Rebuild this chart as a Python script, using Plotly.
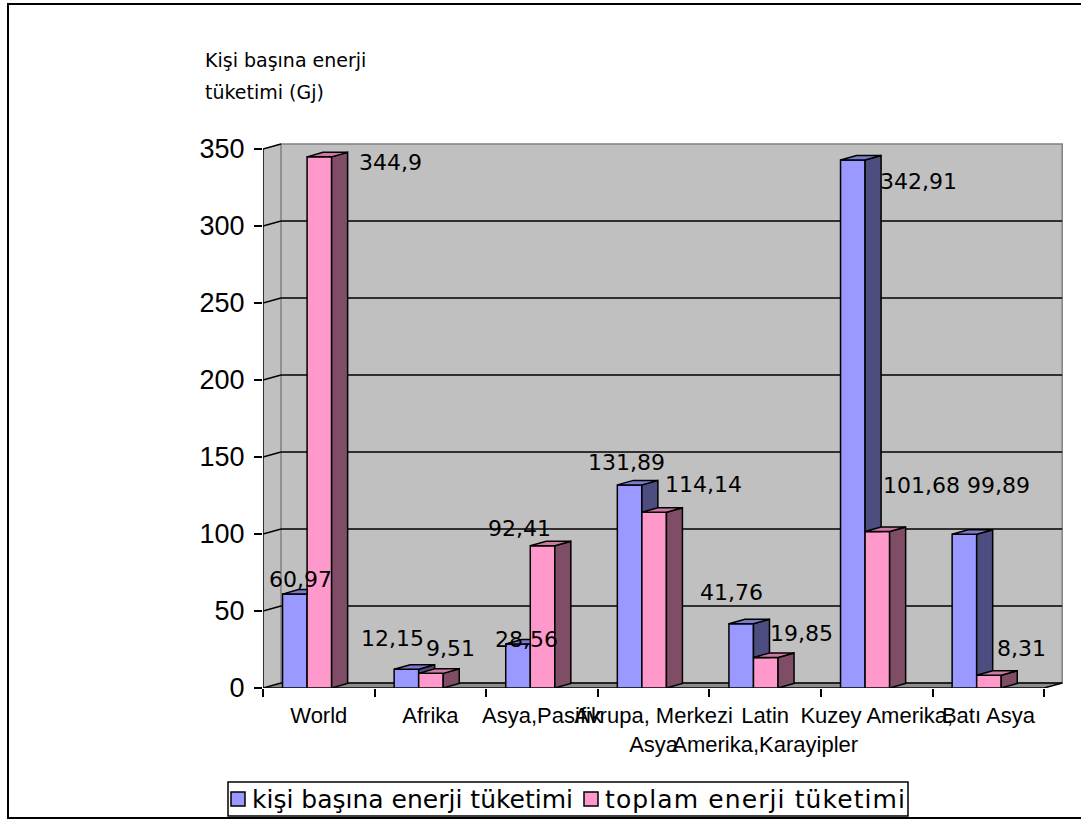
import plotly.graph_objects as go

# ---- data -------------------------------------------------------------
category_labels = [
    "World",
    "Afrika",
    "Asya,Pasifik",
    "Avrupa, Merkezi<br>Asya",
    "Latin<br>Amerika,Karayipler",
    "Kuzey Amerika,",
    "Batı Asya",
]
per_capita = [60.97, 12.15, 28.56, 131.89, 41.76, 342.91, 99.89]
total = [344.9, 9.51, 92.41, 114.14, 19.85, 101.68, 8.31]
y_tick_values = [0, 50, 100, 150, 200, 250, 300, 350]

series_names = ["kişi başına enerji tüketimi", "toplam enerji tüketimi"]

# ---- layout geometry (pixels) -----------------------------------------
W, H = 1081, 821
M_L, M_R, M_T, M_B = 263, 11, 130, 133
PLOT_W = W - M_L - M_R
PLOT_H = H - M_T - M_B
PX_PER_CAT = 111.6
PX_PER_UNIT = 1.54
X_MIN = -0.5
X_MAX = X_MIN + PLOT_W / PX_PER_CAT
Y_MAX = PLOT_H / PX_PER_UNIT
N = len(per_capita)
WALL_TOP = y_tick_values[-1]

# depth of the pseudo-3D walls and boxes, in axis units
WALL_DX, WALL_DY = 18 / PX_PER_CAT, 5 / PX_PER_UNIT
BOX_DX, BOX_DY = 16 / PX_PER_CAT, 4.5 / PX_PER_UNIT
BAR_W = 0.22
OFFSETS = [-0.325, -0.105]

FRONT = ["#9999ff", "#ff99cc"]
SIDE = ["#4d4d80", "#804d66"]
TOP = ["#7a7acc", "#cc7aa3"]
WALL = "#c0c0c0"
FLOOR = "#8c8c8c"

# label placement relative to each bar top (pixels, right / up)
label_shift = [
    [(6, 15), (-14, 31), (8, 5), (-3, 22), (-10, 31), (66, -22), (34, 49)],
    [(71, -6), (20, 25), (-23, 17), (49, 28), (36, 24), (44, 46), (33, 27)],
]

LINE_FONT = "Liberation Sans, Arial, sans-serif"
LABEL_FONT = "DejaVu Sans, sans-serif"


def px_x(px):
    return (px - M_L) / PLOT_W


def px_y(py):
    return (M_T + PLOT_H - py) / PLOT_H


def clip(poly, axis, limit, keep_above):
    out = []
    for k in range(len(poly)):
        cur, prev = poly[k], poly[k - 1]
        cin = cur[axis] >= limit if keep_above else cur[axis] <= limit
        pin = prev[axis] >= limit if keep_above else prev[axis] <= limit
        if cin != pin:
            t = (limit - prev[axis]) / (cur[axis] - prev[axis])
            out.append((prev[0] + t * (cur[0] - prev[0]),
                        prev[1] + t * (cur[1] - prev[1])))
        if cin:
            out.append(cur)
    return out


def poly_trace(poly, color):
    xs = [p[0] for p in poly] + [poly[0][0]]
    ys = [p[1] for p in poly] + [poly[0][1]]
    return go.Scatter(x=xs, y=ys, mode="lines", fill="toself",
                      fillcolor=color, line=dict(color="black", width=1.5),
                      hoverinfo="skip", showlegend=False)


fig = go.Figure()

# ---- front faces of the boxes ----------------------------------------
values = [per_capita, total]
for s in range(2):
    fig.add_trace(go.Bar(
        x=list(range(N)), y=values[s], width=BAR_W, offset=OFFSETS[s],
        name=series_names[s], showlegend=False,
        marker=dict(color=FRONT[s], line=dict(color="black", width=1.5)),
        hoverinfo="skip",
    ))

# ---- side and top faces ----------------------------------------------
for i in range(N):
    hb, hp = per_capita[i], total[i]
    for s in range(2):
        h = values[s][i]
        left = i + OFFSETS[s]
        right = left + BAR_W
        side = [(right, 0), (right + BOX_DX, BOX_DY),
                (right + BOX_DX, h + BOX_DY), (right, h)]
        top = [(left, h), (left + BOX_DX, h + BOX_DY),
               (right + BOX_DX, h + BOX_DY), (right, h)]
        if s == 0:
            # the second box stands in front of the first one's right part
            side = clip(side, 1, hp, True)
            if hp > hb:
                top = clip(top, 0, right, False)
        if len(side) >= 3:
            fig.add_trace(poly_trace(side, SIDE[s]))
        if len(top) >= 3:
            fig.add_trace(poly_trace(top, TOP[s]))

# ---- walls, floor, gridlines -----------------------------------------
shapes = []
bx0, bx1 = X_MIN + WALL_DX, N - 0.5 + WALL_DX
shapes.append(dict(type="path", layer="below",
                   path=f"M {X_MIN},0 L {bx0},{WALL_DY} L {bx0},{WALL_TOP + WALL_DY} "
                        f"L {X_MIN},{WALL_TOP} Z",
                   fillcolor=WALL, line=dict(width=0)))
shapes.append(dict(type="rect", layer="below", x0=bx0, x1=bx1,
                   y0=WALL_DY, y1=WALL_TOP + WALL_DY,
                   fillcolor=WALL, line=dict(color="#808080", width=1.5)))
shapes.append(dict(type="path", layer="below",
                   path=f"M {X_MIN},0 L {N - 0.5},0 L {bx1},{WALL_DY} L {bx0},{WALL_DY} Z",
                   fillcolor=FLOOR, line=dict(width=0)))
for v in y_tick_values:
    if v < WALL_TOP:
        shapes.append(dict(type="line", layer="below", x0=bx0, x1=bx1,
                           y0=v + WALL_DY, y1=v + WALL_DY,
                           line=dict(color="black", width=1.5)))
    shapes.append(dict(type="line", layer="below", x0=X_MIN, x1=bx0,
                       y0=v, y1=v + WALL_DY,
                       line=dict(color="black", width=1.5)))
shapes.append(dict(type="line", layer="below", x0=X_MIN, x1=X_MIN,
                   y0=0, y1=WALL_TOP, line=dict(color="black", width=1.5)))
shapes.append(dict(type="path", layer="below",
                   path=f"M {X_MIN},0 L {N - 0.5},0 L {bx1},{WALL_DY}",
                   line=dict(color="black", width=1.5)))
# chart frame
shapes.append(dict(type="rect", xref="paper", yref="paper",
                   x0=px_x(8), x1=px_x(1110), y0=px_y(818), y1=px_y(4),
                   line=dict(color="black", width=2)))

# ---- legend (box, swatches, names) -----------------------------------
LEG_L, LEG_R, LEG_T, LEG_B = 228, 908, 782, 816
swatch_left = [231, 584]
text_left = [250, 603]
legend_text = [series_names[0],
               f'<span style="letter-spacing:1.1px">{series_names[1]}</span>']
shapes.append(dict(type="rect", xref="paper", yref="paper",
                   x0=px_x(LEG_L), x1=px_x(LEG_R), y0=px_y(LEG_B), y1=px_y(LEG_T),
                   fillcolor="white", line=dict(color="black", width=1.5)))
for s in range(2):
    shapes.append(dict(type="rect", xref="paper", yref="paper",
                       x0=px_x(swatch_left[s]), x1=px_x(swatch_left[s] + 14),
                       y0=px_y(806), y1=px_y(792),
                       fillcolor=FRONT[s], line=dict(color="black", width=1.5)))

# ---- annotations ------------------------------------------------------
annotations = []
for s in range(2):
    for i in range(N):
        v = values[s][i]
        dx, dy = label_shift[s][i]
        annotations.append(dict(
            x=i + OFFSETS[s] + BAR_W / 2, y=v, xref="x", yref="y",
            text=f"{v}".replace(".", ","), showarrow=False,
            xanchor="center", yanchor="middle", xshift=dx, yshift=dy,
            font=dict(family=LABEL_FONT, size=22, color="black")))

for s in range(2):
    annotations.append(dict(x=px_x(text_left[s]), y=px_y(799),
                            xref="paper", yref="paper",
                            text=legend_text[s], showarrow=False,
                            xanchor="left", yanchor="middle",
                            font=dict(family=LABEL_FONT, size=25, color="black")))

annotations.append(dict(x=px_x(203), y=px_y(60), xref="paper", yref="paper",
                        text="Kişi başına enerji", showarrow=False,
                        xanchor="left", yanchor="middle",
                        font=dict(family=LABEL_FONT, size=19, color="black")))
annotations.append(dict(x=px_x(203), y=px_y(92), xref="paper", yref="paper",
                        text="tüketimi (Gj)", showarrow=False,
                        xanchor="left", yanchor="middle",
                        font=dict(family=LABEL_FONT, size=19, color="black")))

fig.update_layout(
    width=W, height=H, autosize=False,
    margin=dict(l=M_L, r=M_R, t=M_T, b=M_B, pad=0, autoexpand=False),
    paper_bgcolor="white", plot_bgcolor="white",
    barmode="overlay", showlegend=False,
    shapes=shapes, annotations=annotations,
    xaxis=dict(range=[X_MIN, X_MAX], showgrid=False, zeroline=False,
               showline=False, tickmode="array", tickvals=list(range(N)),
               ticktext=category_labels, ticks="", tickangle=0,
               ticklabelstandoff=12,
               tickfont=dict(family=LINE_FONT, size=22, color="black"),
               minor=dict(tick0=-0.5, dtick=1, ticks="outside", ticklen=8,
                          tickwidth=1.5, tickcolor="black", showgrid=False)),
    yaxis=dict(range=[0, Y_MAX], showgrid=False, zeroline=False,
               showline=False, tickmode="array", tickvals=y_tick_values,
               ticks="outside", ticklen=8, tickwidth=1.5, tickcolor="black",
               ticklabelstandoff=4,
               tickfont=dict(family=LINE_FONT, size=27, color="black")),
)

fig.write_html("out.html")
